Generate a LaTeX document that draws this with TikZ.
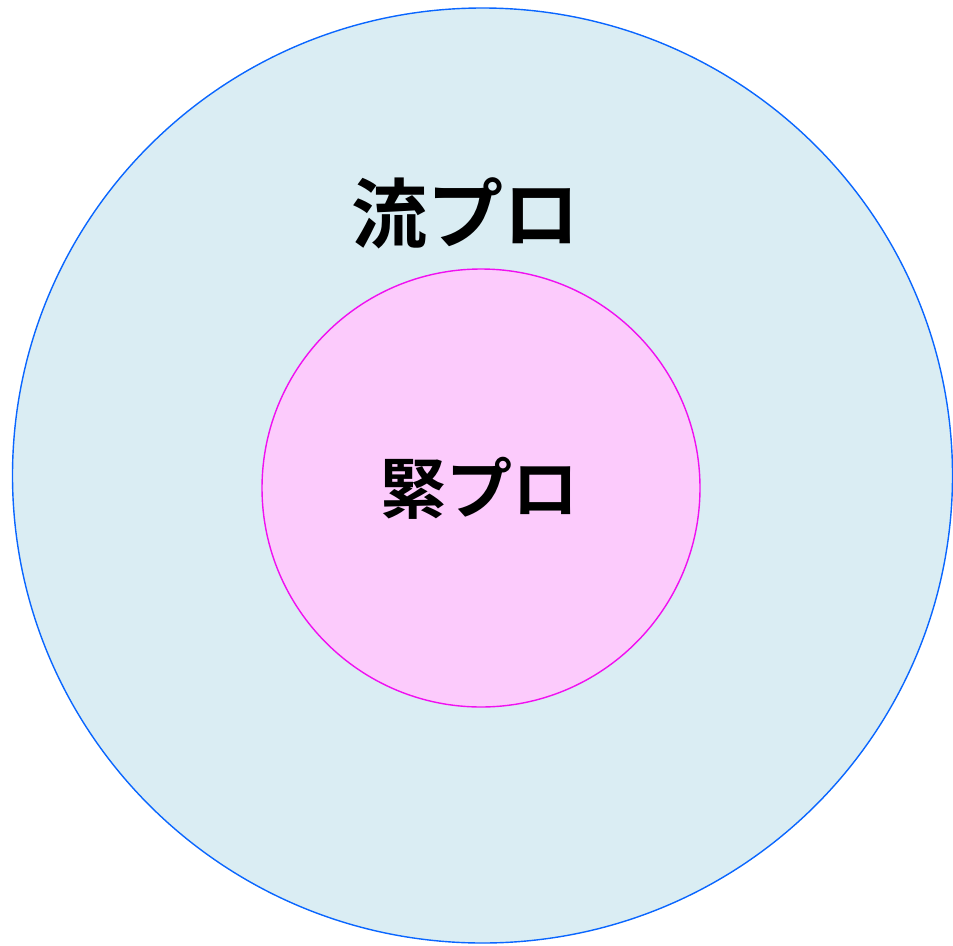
\documentclass[tikz,border=0pt]{standalone}
\usepackage{fontspec}
\newfontfamily\jpfont{Noto Sans CJK JP Bold}
\definecolor{outerfill}{HTML}{DAEDF3}
\definecolor{outerline}{HTML}{0A66FF}
\definecolor{innerfill}{HTML}{FCCBFC}
\definecolor{innerline}{HTML}{F010F0}
\tikzset{
  label text/.style={font=\jpfont, text=black, inner sep=0pt, anchor=center},
}
\begin{document}
\begin{tikzpicture}[x=1pt,y=-1pt]
\useasboundingbox (0,0) rectangle (953,945);
\draw[outerline, fill=outerfill, line width=1.4pt] (482.5,475.5) ellipse [x radius=470, y radius=467.5];
\draw[innerline, fill=innerfill, line width=1.4pt] (481,488) circle [radius=219];
\node[label text, font=\jpfont\fontsize{76}{80}\selectfont] (outer) at (465,213) {流プロ};
\node[label text, font=\jpfont\fontsize{66}{70}\selectfont] (inner) at (479,488) {緊プロ};
\end{tikzpicture}
\end{document}
